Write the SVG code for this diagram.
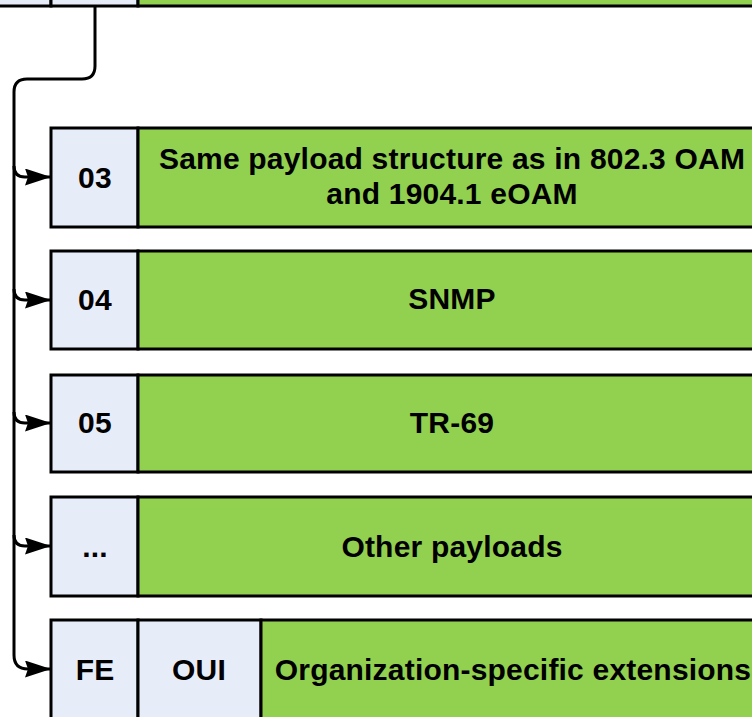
<svg xmlns="http://www.w3.org/2000/svg" width="752" height="717" viewBox="0 0 752 717">
<style>
.b{fill:#E7EDF8;stroke:#000;stroke-width:3}
.g{fill:#92D050;stroke:#000;stroke-width:3}
.t{font-family:"Liberation Sans",Arial,sans-serif;font-weight:bold;font-size:30px;letter-spacing:0.2px;fill:#000;text-anchor:middle}
.c{fill:none;stroke:#000;stroke-width:3}
</style>
<defs>
<marker id="a" markerUnits="userSpaceOnUse" markerWidth="28" markerHeight="18" refX="26" refY="8.5" orient="auto">
<path d="M0,0 L26,8.5 L0,17 L3,8.5 Z" fill="#000"/>
</marker>
</defs>
<rect width="752" height="717" fill="#fff"/>
<g id="top">
<rect class="b" x="-10" y="-60" width="61" height="66"/>
<rect class="b" x="51" y="-60" width="87" height="66"/>
<rect class="g" x="138" y="-60" width="630" height="66"/>
</g>
<g id="row03">
<rect class="b" x="51" y="128" width="87" height="99"/>
<rect class="g" x="138" y="128" width="630" height="99"/>
<text class="t" x="95" y="188">03</text>
<text class="t" x="452" y="169">Same payload structure as in 802.3 OAM</text>
<text class="t" x="452" y="204">and 1904.1 eOAM</text>
</g>
<g id="row04">
<rect class="b" x="51" y="251" width="87" height="98"/>
<rect class="g" x="138" y="251" width="630" height="98"/>
<text class="t" x="95" y="310">04</text>
<text class="t" x="452" y="309">SNMP</text>
</g>
<g id="row05">
<rect class="b" x="51" y="375" width="87" height="97"/>
<rect class="g" x="138" y="375" width="630" height="97"/>
<text class="t" x="95" y="433">05</text>
<text class="t" x="452" y="433">TR-69</text>
</g>
<g id="rowdots">
<rect class="b" x="51" y="497" width="87" height="99"/>
<rect class="g" x="138" y="497" width="630" height="99"/>
<text class="t" x="95" y="557">...</text>
<text class="t" x="452" y="557">Other payloads</text>
</g>
<g id="rowFE">
<rect class="b" x="51" y="620" width="87" height="110"/>
<rect class="b" x="138" y="620" width="123" height="110"/>
<rect class="g" x="261" y="620" width="510" height="110"/>
<text class="t" x="95" y="680">FE</text>
<text class="t" x="199" y="680">OUI</text>
<text class="t" x="513" y="680">Organization-specific extensions</text>
</g>
<g id="connectors">
<path class="c" d="M95,6 L95,66 Q95,79 82,79 L27,79 Q14,79 14,92 L14,655 Q14,669 28,669 L51,669" marker-end="url(#a)"/>
<path class="c" d="M14,166 Q14,177 25,177 L51,177" marker-end="url(#a)"/>
<path class="c" d="M14,289 Q14,300 25,300 L51,300" marker-end="url(#a)"/>
<path class="c" d="M14,412 Q14,423 25,423 L51,423" marker-end="url(#a)"/>
<path class="c" d="M14,535 Q14,546 25,546 L51,546" marker-end="url(#a)"/>
</g>
</svg>
